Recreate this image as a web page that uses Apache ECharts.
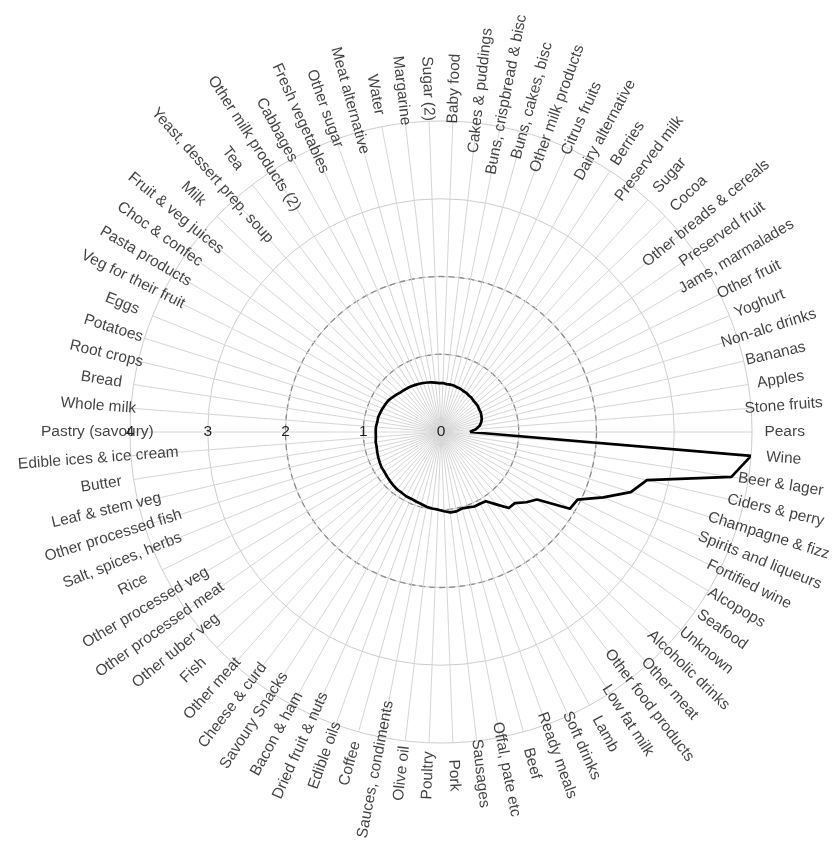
<!DOCTYPE html>
<html>
<head>
<meta charset="utf-8">
<script src="https://cdn.jsdelivr.net/npm/echarts@6/dist/echarts.min.js"></script>
<style>
  html, body { margin: 0; padding: 0; background: #ffffff; }
  #chart { width: 833px; height: 843px; }
</style>
</head>
<body>
<div id="chart"></div>
<script>
// Food categories, listed counter-clockwise starting from the 3 o'clock spoke
const categories = [
  'Pears', 'Stone fruits', 'Apples', 'Bananas', 'Non-alc drinks', 'Yoghurt',
  'Other fruit', 'Jams, marmalades', 'Preserved fruit', 'Other breads & cereals',
  'Cocoa', 'Sugar', 'Preserved milk', 'Berries', 'Dairy alternative',
  'Citrus fruits', 'Other milk products', 'Buns, cakes, bisc',
  'Buns, crispbread & bisc', 'Cakes & puddings', 'Baby food', 'Sugar (2)',
  'Margarine', 'Water', 'Meat alternative', 'Other sugar', 'Fresh vegetables',
  'Cabbages', 'Other milk products (2)', 'Tea', 'Yeast, dessert prep, soup',
  'Milk', 'Fruit & veg juices', 'Choc & confec', 'Pasta products',
  'Veg for their fruit', 'Eggs', 'Potatoes', 'Root crops', 'Bread',
  'Whole milk', 'Pastry (savoury)', 'Edible ices & ice cream', 'Butter',
  'Leaf & stem veg', 'Other processed fish', 'Salt, spices, herbs', 'Rice',
  'Other processed veg', 'Other processed meat', 'Other tuber veg', 'Fish',
  'Other meat', 'Cheese & curd', 'Savoury Snacks', 'Bacon & ham',
  'Dried fruit & nuts', 'Edible oils', 'Coffee', 'Sauces, condiments',
  'Olive oil', 'Poultry', 'Pork', 'Sausages', 'Offal, pate etc', 'Beef',
  'Ready meals', 'Soft drinks', 'Lamb', 'Low fat milk', 'Other food products',
  'Other meat', 'Alcoholic drinks', 'Unknown', 'Seafood', 'Alcopops',
  'Fortified wine', 'Spirits and liqueurs', 'Champagne & fizz',
  'Ciders & perry', 'Beer & lager', 'Wine'
];

// Value per category, same order as above
const values = [
  0.37, 0.45, 0.50, 0.53, 0.55, 0.56,
  0.57, 0.57, 0.58, 0.58,
  0.58, 0.59, 0.59, 0.60, 0.60,
  0.61, 0.61, 0.62,
  0.62, 0.62, 0.63, 0.63,
  0.64, 0.65, 0.66, 0.67, 0.68,
  0.69, 0.70, 0.71, 0.72,
  0.73, 0.75, 0.77, 0.79,
  0.80, 0.81, 0.82, 0.83, 0.83,
  0.84, 0.84, 0.84, 0.85,
  0.85, 0.86, 0.87, 0.88,
  0.89, 0.89, 0.90, 0.91,
  0.92, 0.93, 0.93, 0.94,
  0.94, 0.95, 0.96, 0.98,
  0.99, 1.00, 1.02, 1.04, 1.04, 1.02,
  1.03, 1.05, 1.05, 1.06, 1.17,
  1.31, 1.32, 1.42, 1.51, 1.93,
  1.96, 2.25, 2.56,
  2.72, 3.78, 4.00
];

// Radial scale
const radiusMin = 0;
const radiusMax = 4;
const radiusStep = 1;
const dashedMax = 2;          // rings 1 and 2 are drawn dashed

// Layout
const CENTER = [441, 432];
const R = 311;
const LABEL_R = 4.42;         // radial position of category names (data units)
const FONT = "'Liberation Sans', Arial, Helvetica, sans-serif";

const N = categories.length;

// Closed outline: repeat the first value at the full turn
const lineData = values.map((v, i) => [v, i]);
lineData.push([values[0], N]);

// Category names, rotated along their spoke and kept upright
const labelData = categories.map((name, i) => {
  let a = i * 360 / N;
  let rot;
  if (a <= 90) rot = a;
  else if (a < 270) rot = a - 180;
  else rot = a - 360;
  return { value: [LABEL_R, i], label: { rotate: rot } };
});

const chart = echarts.init(document.getElementById('chart'), null, { renderer: 'canvas' });

const hiddenAngle = (idx, start) => ({
  polarIndex: idx, type: 'value', min: 0, max: N, startAngle: start,
  clockwise: false, axisLine: { show: false }, axisTick: { show: false },
  axisLabel: { show: false }, splitLine: { show: false }
});

chart.setOption({
  backgroundColor: '#ffffff',
  animation: false,
  polar: [
    { center: CENTER, radius: R },
    { center: CENTER, radius: R },
    { center: CENTER, radius: R * dashedMax / radiusMax }
  ],
  angleAxis: [
    {
      polarIndex: 0, type: 'value', min: 0, max: N, interval: 1,
      startAngle: 0, clockwise: false,
      axisLine: { show: false }, axisTick: { show: false },
      axisLabel: { show: false },
      splitLine: { show: true, lineStyle: { color: '#d6d6d6', width: 1 } }
    },
    hiddenAngle(1, 180),
    hiddenAngle(2, 0)
  ],
  radiusAxis: [
    {
      polarIndex: 0, type: 'value', min: radiusMin, max: radiusMax, interval: radiusStep,
      axisLine: { show: false }, axisTick: { show: false },
      axisLabel: { show: false },
      splitLine: { show: true, lineStyle: { color: '#cdcdcd', width: 1 } }
    },
    {
      polarIndex: 1, type: 'value', min: radiusMin, max: radiusMax, interval: radiusStep,
      axisLine: { show: false }, axisTick: { show: false },
      splitLine: { show: false },
      axisLabel: {
        show: true, margin: 0, color: '#222222', fontSize: 15.5, fontFamily: FONT,
        align: 'center', verticalAlign: 'middle'
      }
    },
    {
      polarIndex: 2, type: 'value', min: radiusMin, max: dashedMax, interval: radiusStep,
      axisLine: { show: false }, axisTick: { show: false },
      axisLabel: { show: false },
      splitLine: { show: true, lineStyle: { color: '#8c8c8c', width: 1.3, type: [6, 4] } }
    }
  ],
  series: [
    {
      type: 'line',
      coordinateSystem: 'polar',
      polarIndex: 0,
      data: lineData,
      symbol: 'none',
      smooth: false,
      clip: false,
      lineStyle: { color: '#000000', width: 2.7, join: 'round' },
      z: 10,
      silent: true
    },
    {
      type: 'scatter',
      coordinateSystem: 'polar',
      polarIndex: 0,
      data: labelData,
      symbolSize: 0.1,
      clip: false,
      silent: true,
      itemStyle: { color: 'rgba(0,0,0,0)' },
      label: {
        show: true,
        position: 'inside',
        formatter: p => categories[p.dataIndex],
        color: '#111111',
        fontSize: 15.5,
        fontFamily: FONT,
        align: 'center',
        verticalAlign: 'middle'
      },
      labelLayout: { hideOverlap: false }
    }
  ]
});
</script>
</body>
</html>
